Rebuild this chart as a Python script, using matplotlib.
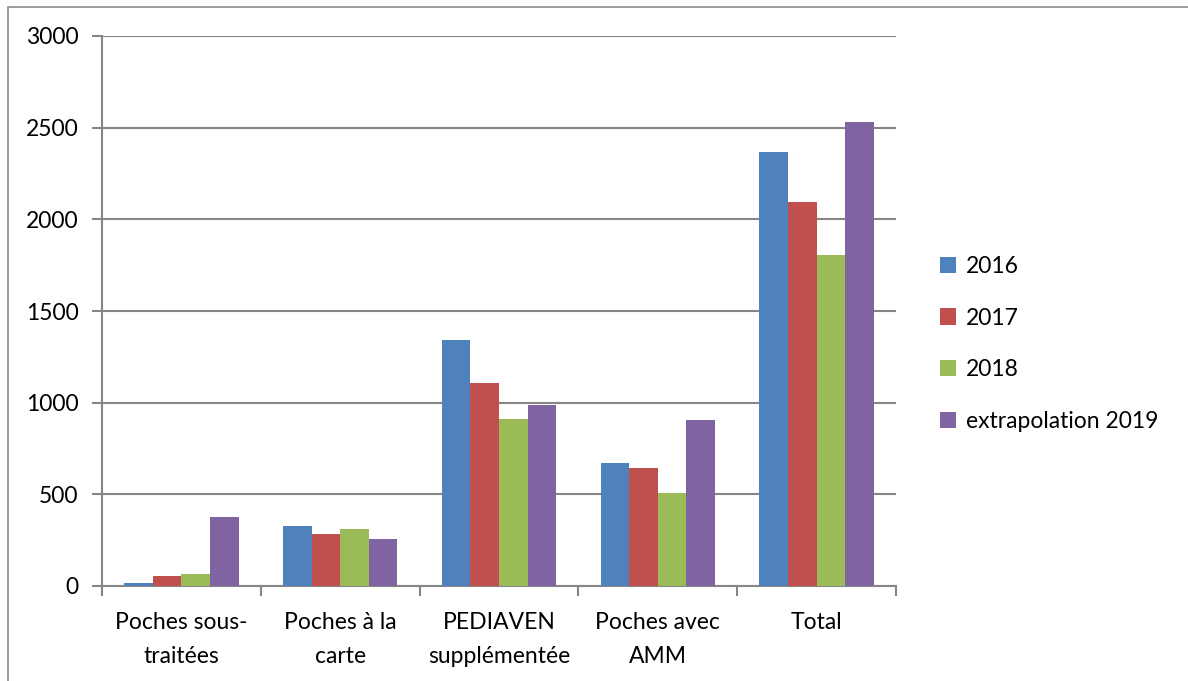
import numpy as np
import matplotlib.pyplot as plt
from matplotlib.patches import Rectangle

categories = ["Poches sous-\ntraitées", "Poches à la\ncarte", "PEDIAVEN\nsupplémentée",
              "Poches avec\nAMM", "Total"]
series_names = ["2016", "2017", "2018", "extrapolation 2019"]
v2016 = [18, 325, 1341, 672, 2365]
v2017 = [55, 284, 1105, 642, 2092]
v2018 = [67, 313, 911, 507, 1805]
v2019 = [375, 256, 989, 905, 2532]
colors = ["#4f81bd", "#c0504d", "#9bbb59", "#8064a2"]

plt.rcParams['font.family'] = ['Lato', 'DejaVu Sans']

fig = plt.figure(figsize=(11.88, 6.81), dpi=100)
ax = fig.add_axes([102 / 1188, 1 - 586 / 681, 794 / 1188, 550 / 681])

x = np.arange(len(categories))
w = 0.18
for i, (name, vals) in enumerate(zip(series_names, [v2016, v2017, v2018, v2019])):
    ax.bar(x + (i - 1.5) * w, vals, w, color=colors[i], label=name, zorder=3)

grid_c = "#868686"
ax.set_ylim(0, 3000)
ax.set_yticks(range(0, 3001, 500))
ax.set_xlim(-0.5, len(categories) - 0.5)
ax.yaxis.grid(True, color=grid_c, linewidth=1.5, zorder=0)
for s in ["top", "right"]:
    ax.spines[s].set_visible(False)
for s in ["left", "bottom"]:
    ax.spines[s].set_color(grid_c)
    ax.spines[s].set_linewidth(1.5)

fs = 16.5
ax.set_xticks(x)
ax.set_xticklabels(categories, fontsize=fs, linespacing=1.75)
ax.tick_params(axis="x", length=0, pad=19)
ax.set_xticks(np.arange(-0.5, len(categories)), minor=True)
ax.tick_params(axis="x", which="minor", length=7, width=1.5, color=grid_c)
ax.tick_params(axis="y", length=7, width=1.5, color=grid_c, labelsize=fs, pad=10)

ax.legend(loc="center left", bbox_to_anchor=(1.03, 0.44), frameon=False,
          fontsize=fs, handlelength=0.7, handleheight=0.7, handletextpad=0.4,
          labelspacing=1.35)

fig.patches.append(Rectangle((8 / 1188, -0.1), 1.2, 1.1 - 7 / 681, transform=fig.transFigure,
                             fill=False, edgecolor="#8c8c8c", linewidth=1.2))

fig.savefig("out.png", dpi=100)
